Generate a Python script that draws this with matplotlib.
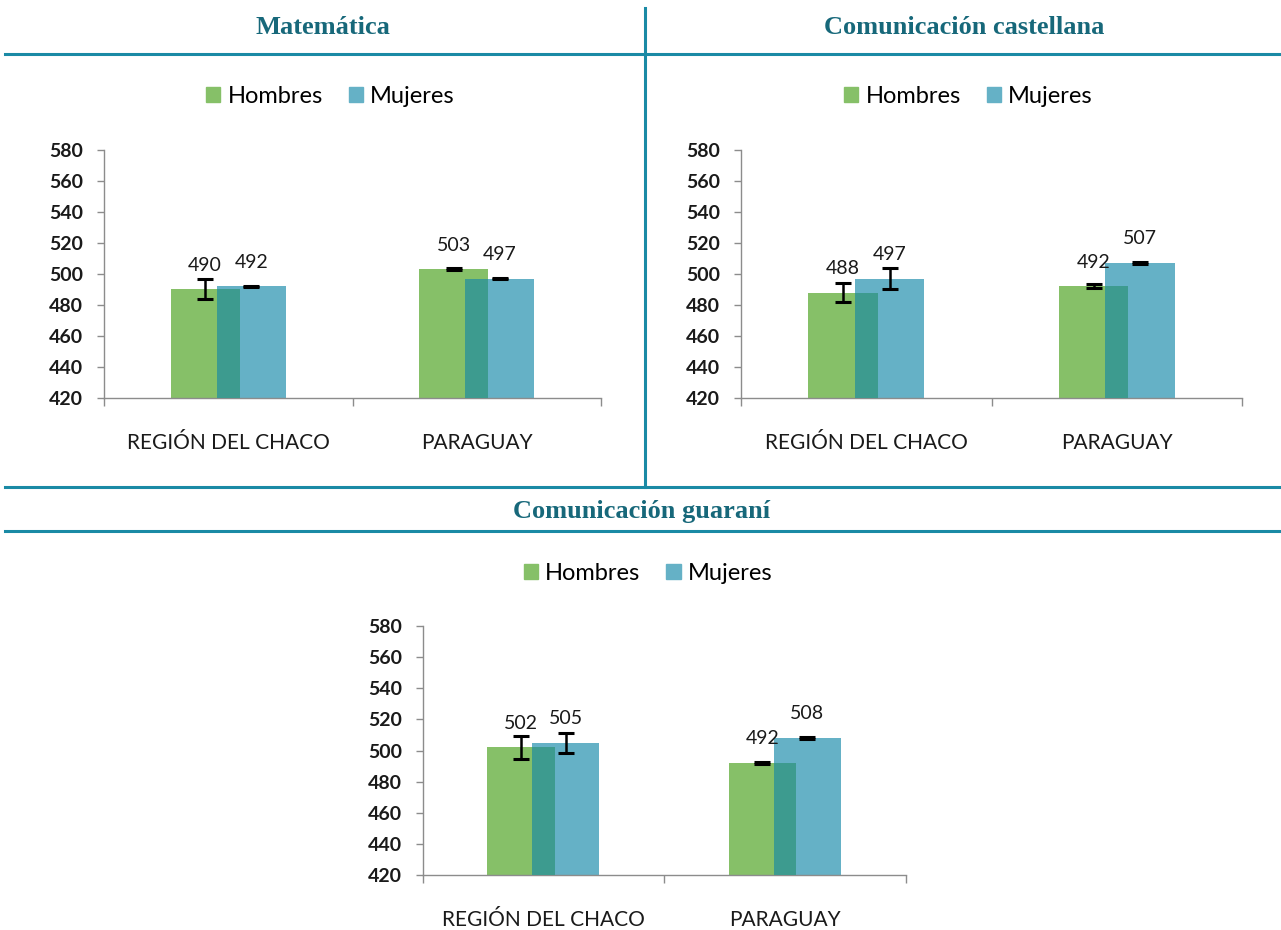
import matplotlib.pyplot as plt
import numpy as np
from matplotlib.patches import Patch
from matplotlib.lines import Line2D

# data
categories = ['REGIÓN DEL CHACO', 'PARAGUAY']
subjects = ['Matemática', 'Comunicación castellana', 'Comunicación guaraní']
hombres = {
    'Matemática': [490, 503],
    'Comunicación castellana': [488, 492],
    'Comunicación guaraní': [502, 492],
}
mujeres = {
    'Matemática': [492, 497],
    'Comunicación castellana': [497, 507],
    'Comunicación guaraní': [505, 508],
}
err_hombres = {
    'Matemática': [6.5, 0.6],
    'Comunicación castellana': [6.2, 1.3],
    'Comunicación guaraní': [7.4, 0.4],
}
err_mujeres = {
    'Matemática': [0.5, 0.5],
    'Comunicación castellana': [6.5, 0.5],
    'Comunicación guaraní': [6.4, 0.5],
}
yticks = list(range(420, 581, 20))

green = '#86C068'
blue = '#65B1C6'
overlap = '#3D9B8F'
teal = '#1A8AA5'
title_col = '#17687A'
axis_col = '#8C8C8C'

plt.rcParams['font.family'] = ['Lato', 'DejaVu Sans']

fig = plt.figure(figsize=(12.81, 9.30), dpi=100)

# panel axes positions [left, bottom, width, height]
positions = {
    'Matemática': [0.0812, 0.572, 0.388, 0.267],
    'Comunicación castellana': [0.5785, 0.572, 0.3911, 0.267],
    'Comunicación guaraní': [0.330, 0.0591, 0.377, 0.2678],
}

w = 0.278
d = 0.093

for subj in subjects:
    ax = fig.add_axes(positions[subj])
    x = np.arange(len(categories))
    h = np.array(hombres[subj])
    m = np.array(mujeres[subj])
    ax.bar(x - d, h - 420, w, bottom=420, color=green, zorder=2)
    ax.bar(x + d, m - 420, w, bottom=420, color=blue, zorder=2)
    # darker strip where the two bars overlap
    ax.bar(x, np.minimum(h, m) - 420, w - 2 * d, bottom=420, color=overlap, zorder=3)
    ax.errorbar(x - d, h, yerr=err_hombres[subj], fmt='none', ecolor='black',
                elinewidth=1.8, capsize=6, capthick=2.2, zorder=4)
    ax.errorbar(x + d, m, yerr=err_mujeres[subj], fmt='none', ecolor='black',
                elinewidth=1.8, capsize=6, capthick=2.2, zorder=4)
    for xi, v in zip(x - d, h):
        ax.text(xi, v + 15.5, f'{v}', ha='center', va='center', fontsize=14, color='#1a1a1a')
    for xi, v in zip(x + d, m):
        ax.text(xi, v + 15.5, f'{v}', ha='center', va='center', fontsize=14, color='#1a1a1a')

    ax.set_xlim(-0.5, 1.5)
    ax.set_ylim(420, 580)
    ax.set_yticks(yticks)
    ax.set_yticklabels([str(t) for t in yticks], fontsize=14, fontweight='bold', color='#1a1a1a')
    ax.set_xticks(x)
    ax.set_xticklabels(categories, fontsize=15, color='#1a1a1a')
    ax.set_xticks([-0.5, 0.5, 1.5], minor=True)
    ax.tick_params(axis='x', which='major', length=0, pad=25)
    ax.tick_params(axis='x', which='minor', length=6, color=axis_col, width=1)
    ax.tick_params(axis='y', length=5, color=axis_col, width=1, pad=10)
    for s in ['top', 'right']:
        ax.spines[s].set_visible(False)
    for s in ['left', 'bottom']:
        ax.spines[s].set_color(axis_col)
        ax.spines[s].set_linewidth(1)

# titles
fig.text(0.252, 0.970, 'Matemática', ha='center', va='center', fontsize=19,
         fontweight='bold', family='Liberation Serif', color=title_col)
fig.text(0.753, 0.970, 'Comunicación castellana', ha='center', va='center', fontsize=19,
         fontweight='bold', family='Liberation Serif', color=title_col)
fig.text(0.501, 0.4495, 'Comunicación guaraní', ha='center', va='center', fontsize=19,
         fontweight='bold', family='Liberation Serif', color=title_col)

# separator lines
fig.add_artist(Line2D([0.004, 1.0], [0.942, 0.942], color=teal, lw=2.2))
fig.add_artist(Line2D([0.5035, 0.5035], [0.991, 0.476], color=teal, lw=2.2))
fig.add_artist(Line2D([0.004, 1.0], [0.476, 0.476], color=teal, lw=2.2))
fig.add_artist(Line2D([0.004, 1.0], [0.429, 0.429], color=teal, lw=2.2))

# legends
handles = [Patch(color=green, label='Hombres'), Patch(color=blue, label='Mujeres')]
for lx, ly in [(0.258, 0.896), (0.756, 0.896), (0.506, 0.383)]:
    fig.legend(handles=handles, loc='center', bbox_to_anchor=(lx, ly), ncol=2,
               frameon=False, fontsize=17, handlelength=0.6, handleheight=0.6,
               handletextpad=0.3, columnspacing=1.1)

plt.savefig('out.png', dpi=100)
